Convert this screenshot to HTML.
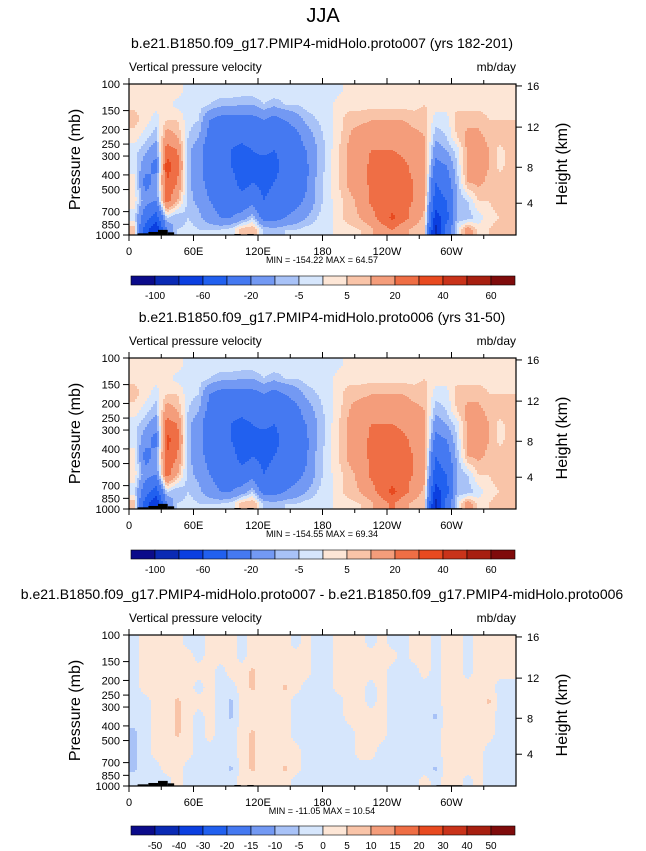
<!DOCTYPE html>
<html><head><meta charset="utf-8"><style>
body{margin:0;background:#fff;}
svg{display:block;font-family:"Liberation Sans",sans-serif;}
</style></head><body>
<svg id="root" width="646" height="851" viewBox="0 0 646 851" xmlns="http://www.w3.org/2000/svg">
<rect width="646" height="851" fill="#fff"/>
<text x="323" y="22" font-size="20" text-anchor="middle">JJA</text>
</svg>
<script>
// ---- data ----
const pressureBounds = [100,125,150,200,250,300,400,500,700,850,1000];
const lonCenters = [5,15,25,35,45,55,65,75,85,95,105,115,125,135,145,155,165,175,185,195,205,215,225,235,245,255,265,275,285,295,305,315,325,335,345,355];
const fullLevels = [-100,-80,-60,-40,-20,-10,-5,0,5,10,20,30,40,50,60];
const fullLabels = ["-100","","-60","","-20","","-5","","5","","20","","40","","60"];
const diffLevels = [-50,-40,-30,-20,-15,-10,-5,0,5,10,15,20,30,40,50];
const diffLabels = ["-50","-40","-30","-20","-15","-10","-5","0","5","10","15","20","30","40","50"];
const palette = ["#0b0b8a","#0a2ab4","#0b3fe0","#2160ef","#4579f1","#7399f3","#a8c2f7","#d6e6fc","#fde6d6","#f9c4a8","#f49d7b","#ef6e45","#e84a20","#c9331a","#a71f10","#7f0b0b"];
const xTickLon = [0,60,120,180,240,300];
const xTickLabels = ["0","60E","120E","180","120W","60W"];
const yTickP = [100,150,200,250,300,400,500,700,850,1000];
const heightTicks = [4,8,12,16];
const heightTickP = [616,356,193,103];
// topography: [lonStart, lonEnd, topPressure]
const topoSegments = [[8,18,975],[18,27,955],[27,36,925],[36,42,960],[98,104,985],[110,116,985],[286,310,988]];
// panel 1 field (columns = lonCenters, rows = pressure bands top->bottom), mb/day
const field1 = [
[3,4,7,3,-3,-3,3,3,-3,8],[2,3,3,-3,-8,-15,-25,-15,-30,-50],[2,2,-3,-8,-15,-25,-15,-20,-50,-80],
[2,2,5,15,25,35,30,25,-5,-20],[2,-2,5,10,20,25,20,10,-10,-5],[-2,-2,-3,-5,-8,-8,-8,-8,-5,-3],
[-2,-3,-5,-10,-15,-15,-15,-12,-8,-5],[-2,-5,-20,-25,-30,-30,-25,-20,-15,-5],[-2,-8,-25,-30,-30,-30,-30,-25,-20,-5],
[-2,-8,-25,-35,-40,-40,-30,-25,-20,-3],[-2,-10,-25,-35,-45,-55,-50,-30,-15,8],[-2,-10,-25,-30,-40,-45,-40,-25,-5,10],
[-2,-5,-20,-30,-35,-50,-45,-40,-25,-5],[-2,-8,-25,-30,-40,-45,-40,-35,-25,-8],[-2,-5,-20,-30,-35,-35,-35,-30,-20,-5],
[-2,-5,-15,-25,-25,-25,-25,-25,-15,-5],[-2,-3,-8,-15,-20,-22,-22,-18,-10,-3],[-2,-2,-5,-8,-10,-10,-8,-8,-5,-2],
[-2,-2,-2,-3,-3,-3,-2,-2,-2,-2],[-1,2,3,3,5,5,5,3,3,2],[2,3,8,10,12,12,12,8,8,3],
[2,3,8,15,15,15,15,12,10,5],[2,3,10,15,20,22,22,22,15,8],[2,3,10,15,20,25,25,25,25,15],
[2,3,10,15,20,25,25,25,32,20],[2,3,10,15,18,22,22,22,25,12],[2,3,8,12,15,18,20,20,15,8],
[2,5,8,10,12,15,15,12,8,5],[2,3,-3,-8,-15,-25,-40,-50,-70,-90],[2,3,-3,-5,-10,-20,-30,-40,-50,-30],
[2,3,8,5,-3,-5,-8,-10,-8,-3],[2,3,8,12,12,12,10,-5,-8,15],[2,3,8,12,15,15,12,5,-3,3],
[2,3,5,8,10,10,8,5,3,5],[2,3,5,8,3,3,8,8,5,8],[2,3,5,8,8,8,8,8,8,5]];
const field2 = [
[3,4,7,3,-3,-3,3,3,-3,8],[2,3,3,-3,-8,-15,-25,-15,-30,-50],[2,2,-3,-8,-15,-25,-15,-20,-50,-80],
[2,2,5,15,25,33,30,25,-5,-20],[2,-2,5,10,20,25,20,10,-10,-5],[-2,-2,-3,-5,-8,-8,-8,-8,-5,-3],
[-2,-3,-5,-10,-15,-15,-15,-12,-8,-5],[-2,-5,-20,-25,-30,-30,-25,-20,-15,-5],[-2,-8,-25,-30,-30,-30,-30,-25,-20,-5],
[-2,-8,-25,-35,-40,-40,-30,-25,-20,-3],[-2,-10,-25,-35,-45,-55,-50,-30,-15,8],[-2,-10,-25,-30,-40,-45,-40,-25,-5,10],
[-2,-5,-20,-30,-35,-50,-45,-40,-25,-5],[-2,-8,-25,-30,-40,-45,-40,-35,-25,-8],[-2,-5,-20,-30,-35,-35,-35,-30,-20,-5],
[-2,-5,-15,-25,-25,-25,-25,-25,-15,-5],[-2,-3,-8,-15,-20,-22,-22,-18,-10,-3],[-2,-2,-5,-8,-10,-10,-8,-8,-5,-2],
[-2,-2,-2,-3,-3,-3,-2,-2,-2,-2],[-1,2,3,3,5,5,5,3,3,2],[2,3,8,10,12,12,12,8,8,3],
[2,3,8,15,15,15,15,12,10,5],[2,3,10,15,20,22,22,22,15,8],[2,3,10,15,20,25,25,25,25,15],
[2,3,10,15,20,25,25,25,33,22],[2,3,10,15,18,22,22,22,25,12],[2,3,8,12,15,18,20,20,15,8],
[2,5,8,10,12,15,15,12,8,5],[2,3,-3,-8,-15,-25,-40,-50,-70,-90],[2,3,-3,-5,-10,-20,-30,-40,-50,-30],
[2,3,8,5,-3,-5,-8,-10,-8,-3],[2,3,8,12,12,12,10,-5,-8,15],[2,3,8,12,15,15,12,5,-3,3],
[2,3,5,8,10,10,8,5,3,5],[2,3,5,8,3,3,8,8,5,8],[2,3,5,8,8,8,8,8,8,5]];
const fieldDiff = [
[-2,-2,-2,-2,-2,-3,-6,-6,-6,-2],[2,2,2,2,-2,-2,-2,-2,-2,-2],[2,2,2,2,2,2,2,2,-2,-2],
[2,2,2,2,2,2,2,2,2,-2],[2,2,2,2,6,6,6,2,2,2],[-2,2,2,2,2,2,2,2,-2,-2],
[-2,-2,2,-2,2,-2,-2,-2,-2,-2],[2,2,2,2,2,2,2,-2,-2,-2],[2,2,-2,-2,-2,-2,-2,-2,-2,-2],
[2,2,2,-2,-6,-6,-2,-2,-6,-2],[-2,-2,2,2,2,2,2,2,2,2],[2,2,6,6,2,2,6,6,6,2],
[2,2,2,2,2,2,2,2,2,2],[2,2,2,2,2,2,2,2,2,2],[2,2,2,6,2,2,2,2,6,2],
[-2,2,2,2,-2,-2,-2,2,2,-2],[2,2,2,-2,-2,-2,-2,-2,-2,-2],[-2,-2,-2,-2,-2,-2,-2,-2,-2,-2],
[-2,-2,-2,-2,-2,-2,-2,-2,-2,-2],[2,2,2,2,-2,-2,-2,-2,-2,-2],[2,2,2,2,2,2,-2,-2,-2,-2],
[2,2,2,2,2,2,2,2,-2,-2],[-2,2,2,-2,-2,2,2,2,-2,-2],[2,2,2,2,2,2,2,-2,-2,-2],
[-2,2,-2,-2,-2,-2,-2,-2,-2,-2],[-2,-2,-2,-2,-2,-2,-2,-2,-2,-2],[2,2,-2,-2,-2,-2,-2,-2,-2,-2],
[2,2,2,-2,-2,-2,-2,-2,-2,2],[-2,-2,-2,-2,-2,-6,-2,-2,-6,-2],[2,2,2,2,2,2,2,2,2,2],
[2,2,2,2,2,2,2,2,2,2],[-2,-2,-2,2,2,2,2,2,2,-2],[2,2,2,2,2,2,2,2,2,2],
[2,2,2,2,6,2,2,-2,-2,-2],[2,2,2,-2,-2,-2,-2,-2,-2,-2],[2,2,2,-2,-2,-2,-2,-2,-2,-2]];

// ---- drawing ----
const NS="http://www.w3.org/2000/svg";
const root=document.getElementById('root');
const X0=129,X1=516,PH=151;
function mk(tag,attrs,parent){const e=document.createElementNS(NS,tag);for(const k in attrs)e.setAttribute(k,attrs[k]);(parent||root).appendChild(e);return e;}
function txt(x,y,s,size,anchor,parent){const t=mk('text',{x:x,y:y,'font-size':size,'text-anchor':anchor||'start'},parent);t.textContent=s;return t;}
const xScale=lon=>X0+lon/360*(X1-X0);
const lp0=Math.log10(100),lp1=Math.log10(1000);
function yScale(p,top){return top+(Math.log10(p)-lp0)/(lp1-lp0)*PH;}
const bandCenters=pressureBounds.slice(0,-1).map((p,i)=>(Math.log10(p)+Math.log10(pressureBounds[i+1]))/2);
function sample(grid,lon,logp){
  let fi=(lon-lonCenters[0])/(lonCenters[1]-lonCenters[0]);
  fi=Math.max(0,Math.min(lonCenters.length-1,fi));
  const i0=Math.floor(fi),i1=Math.min(lonCenters.length-1,i0+1),tx=fi-i0;
  let j0=0;while(j0<bandCenters.length-2&&logp>bandCenters[j0+1])j0++;
  let ty=(logp-bandCenters[j0])/(bandCenters[j0+1]-bandCenters[j0]);ty=Math.max(0,Math.min(1,ty));
  const j1=j0+1;
  const a=grid[i0][j0]*(1-tx)+grid[i1][j0]*tx,b=grid[i0][j1]*(1-tx)+grid[i1][j1]*tx;
  return a*(1-ty)+b*ty;
}
function cls(v,levels){let k=0;while(k<levels.length&&v>=levels[k])k++;return k;}

function panel(top,grid,levels,name,sub,subX,minmax,cbY,labels){
  const g=mk('g',{});
  
  
  const st=txt(subX,top-36,sub,14,'middle',g);
  
  
  const lt=txt(X0,top-13,'Vertical pressure velocity',12,'start',g);
  
  
  const ut=txt(X1,top-13,'mb/day',12,'end',g);
  
  
  const field=mk('g',{},g);
  
  
  const step=2;
  function flush(py,x0,x1,c){
    const r=mk('rect',{x:x0,y:top+py,width:x1-x0+0.4,height:1.3,fill:palette[c]},field);
    
    
  }
  for(let py=0;py<PH;py++){
    const logp=lp0+(py+0.5)/PH*(lp1-lp0);
    let runStart=X0,runCls=null;
    for(let px=X0;px<X1;px+=step){
      const lon=(px+step/2-X0)/(X1-X0)*360;
      const c=cls(sample(grid,lon,logp),levels);
      if(c!==runCls){
        if(runCls!==null)flush(py,runStart,px,runCls);
        runStart=px;runCls=c;
      }
    }
    if(runCls!==null)flush(py,runStart,X1,runCls);
  }
  topoSegments.forEach(s=>{
    const y=yScale(s[2],top);
    const r=mk('rect',{x:xScale(s[0]),y:y,width:xScale(s[1])-xScale(s[0]),height:top+PH-y,fill:'#000'},g);
    
    
  });
  const fr=mk('rect',{x:X0,y:top,width:X1-X0,height:PH,fill:'none',stroke:'#000','stroke-width':1.2},g);
  
  
  for(let lon=0;lon<360;lon+=30){
    const x=xScale(lon),len=lon%60===0?6:4;
    mk('line',{x1:x,x2:x,y1:top+PH,y2:top+PH+len,stroke:'#000','stroke-width':1},g);
    mk('line',{x1:x,x2:x,y1:top,y2:top-len,stroke:'#000','stroke-width':1},g);
  }
  xTickLon.forEach((lon,i)=>{
    const t=txt(xScale(lon),top+PH+20,xTickLabels[i],11,'middle',g);
    
    
  });
  yTickP.forEach(p=>{
    const y=yScale(p,top);
    mk('line',{x1:X0-6,x2:X0,y1:y,y2:y,stroke:'#000','stroke-width':1},g);
    const t=txt(X0-9,y+4,String(p),11,'end',g);
    
    
  });
  heightTicks.forEach((h,i)=>{
    const y=yScale(heightTickP[i],top);
    mk('line',{x1:X1,x2:X1+6,y1:y,y2:y,stroke:'#000','stroke-width':1},g);
    const t=txt(X1+11,y+4,String(h),11,'start',g);
    
    
  });
  const yt=txt(0,0,'Pressure (mb)',16,'middle',g);
  yt.setAttribute('transform',`translate(80,${top+PH/2}) rotate(-90)`);
  
  
  const ht=txt(0,0,'Height (km)',16,'middle',g);
  ht.setAttribute('transform',`translate(567,${top+80}) rotate(-90)`);
  
  
  const mm=txt(322,top+PH+28,minmax,9,'middle',g);
  
  
  const cb=mk('g',{},g);
  
  
  const bx=131,bw=24;
  palette.forEach((c,i)=>{
    const r=mk('rect',{x:bx+i*bw,y:cbY,width:bw,height:9,fill:c,stroke:'#000','stroke-width':0.6},cb);
    
    
  });
  labels.forEach((l,i)=>{
    if(!l)return;
    const t=txt(bx+(i+1)*bw,cbY+23,l,10,'middle',cb);
    
    
  });
}
panel(84,field1,fullLevels,'panel-proto007','b.e21.B1850.f09_g17.PMIP4-midHolo.proto007 (yrs 182-201)',322,'MIN = -154.22  MAX =  64.57',276,fullLabels);
panel(358,field2,fullLevels,'panel-proto006','b.e21.B1850.f09_g17.PMIP4-midHolo.proto006 (yrs 31-50)',322,'MIN = -154.55  MAX =  69.34',550,fullLabels);
panel(635,fieldDiff,diffLevels,'panel-difference','b.e21.B1850.f09_g17.PMIP4-midHolo.proto007 - b.e21.B1850.f09_g17.PMIP4-midHolo.proto006',322,'MIN = -11.05  MAX =  10.54',826,diffLabels);
</script>
</body></html>
